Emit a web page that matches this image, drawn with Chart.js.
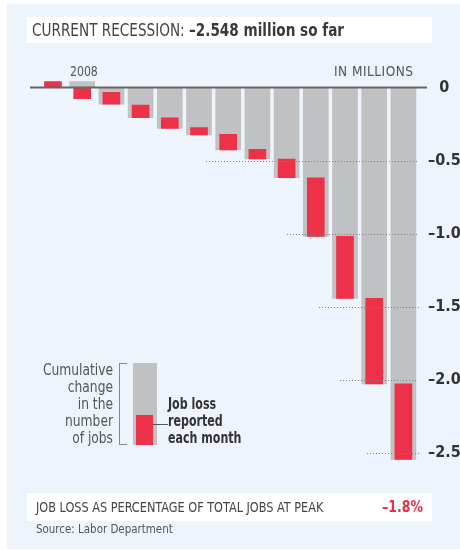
<!DOCTYPE html>
<html>
<head>
<meta charset="utf-8">
<script src="https://cdn.jsdelivr.net/npm/chart.js@4"></script>
<style>
  body { margin: 0; background: #fff; font-family: "DejaVu Sans Condensed", "DejaVu Sans", sans-serif; }
  #wrap { position: relative; width: 460px; height: 550px; overflow: hidden; }
  #panel { position: absolute; left: 7px; top: 4px; width: 453px; height: 545px; background: #edf4fc; }
  canvas { position: absolute; left: 0; top: 0; }
  .t { position: absolute; white-space: nowrap; transform-origin: left center; }
  .box { position: absolute; }
  #titleBox { left: 27px; top: 17px; width: 405px; height: 26px; background: #fff; }
  #title { left: 32px; top: 17px; font-size: 18px; line-height: 26px; color: #444; transform: scaleX(0.84); }
  #title b { color: #3a3a3a; }
  .small { font-size: 13.5px; color: #555; }
  #legendL { left: 13px; top: 362px; width: 100px; text-align: right; font-size: 15px; line-height: 17px; color: #555;
             transform-origin: right center; transform: scaleX(0.91); }
  #legendR { left: 168px; top: 396px; font-size: 15px; line-height: 17px; font-weight: bold; color: #333; transform: scaleX(0.82); }
  #footBox { left: 27px; top: 493px; width: 405px; height: 28px; background: #fff; }
  #foot { left: 36px; top: 493px; font-size: 13.5px; line-height: 28px; color: #444; transform: scaleX(0.93); }
  #pct { left: 382px; top: 493px; font-size: 16px; line-height: 28px; color: #e8304a; font-weight: bold; transform: scaleX(0.87); }
</style>
</head>
<body>
<div id="wrap">
  <div id="panel"></div>
  <div class="box" id="titleBox"></div>
  <div class="box" id="footBox"></div>
  <canvas id="chart" width="460" height="550"></canvas>
  <div class="t" id="title">CURRENT RECESSION: <b>–2.548 million so far</b></div>
  <div class="t small" style="left:70px; top:63px; transform: scaleX(0.9);">2008</div>
  <div class="t small" style="left:334px; top:63px; letter-spacing: 0.5px;">IN MILLIONS</div>
  <div class="t" id="legendL">Cumulative<br>change<br>in the<br>number<br>of jobs</div>
  <div class="box" style="left:119px; top:363px; width:1px; height:82px; background:#888;"></div>
  <div class="box" style="left:119px; top:363px; width:8px; height:1px; background:#888;"></div>
  <div class="box" style="left:119px; top:444px; width:8px; height:1px; background:#888;"></div>
  <div class="box" style="left:133px; top:363px; width:24px; height:82px; background:#c0c1c3;"></div>
  <div class="box" style="left:136px; top:415px; width:17px; height:30px; background:#ec3149;"></div>
  <div class="box" style="left:153px; top:424px; width:15px; height:1px; background:#555;"></div>
  <div class="t" id="legendR">Job loss<br>reported<br>each month</div>
  <div class="t" id="foot">JOB LOSS AS PERCENTAGE OF TOTAL JOBS AT PEAK</div>
  <div class="t" id="pct">–1.8%</div>
  <div class="t small" style="left:36px; top:521px; font-size:13px; transform: scaleX(0.88);">Source: Labor Department</div>
</div>
<script>
// Dec 2007 through Dec 2008, millions of jobs
const months = ['Dec', 'Jan', 'Feb', 'Mar', 'Apr', 'May', 'Jun', 'Jul', 'Aug', 'Sep', 'Oct', 'Nov', 'Dec'];
const cumulative = [0, 0.041, -0.115, -0.207, -0.28, -0.325, -0.428, -0.49, -0.618, -1.02, -1.444, -2.03, -2.548];
const monthFrom = [0, 0, -0.033, -0.12, -0.207, -0.275, -0.32, -0.423, -0.49, -0.618, -1.02, -1.444, -2.03];
const monthTo = [0.041, -0.076, -0.115, -0.207, -0.28, -0.325, -0.428, -0.49, -0.618, -1.02, -1.444, -2.03, -2.548];
const yTicks = [0, -0.5, -1.0, -1.5, -2.0, -2.5];
// where the dotted guide for each tick starts (in bar slots from the left)
const guideStart = { '-0.5': 5.24, '-1': 8.0, '-1.5': 9.1, '-2': 9.83, '-2.5': 10.75 };

const guides = {
    id: 'guides',
    afterDatasetsDraw(chart) {
        const { ctx, chartArea, scales: { x, y } } = chart;
        const slot = x.width / months.length;
        ctx.save();
        ctx.fillStyle = '#828282';
        yTicks.forEach(v => {
            if (v === 0) return;
            const py = Math.round(y.getPixelForValue(v));
            const x0 = x.left + (guideStart[String(v)] + 0.5) * slot;
            for (let px = x0; px < chartArea.right; px += 3) ctx.fillRect(Math.round(px), py, 1, 1);
        });
        // zero line
        const zy = y.getPixelForValue(0);
        ctx.fillStyle = '#666';
        ctx.fillRect(30, zy - 1, 397, 2);
        ctx.restore();
    }
};

new Chart(document.getElementById('chart').getContext('2d'), {
    type: 'bar',
    data: {
        labels: months,
        datasets: [
            { label: 'Job loss reported each month', data: monthFrom.map((v, i) => [v, monthTo[i]]),
              backgroundColor: '#ec3149', barThickness: 17, grouped: false },
            { label: 'Cumulative change', data: cumulative.map(v => [0, v]),
              backgroundColor: '#c0c1c3', barThickness: 25, grouped: false }
        ]
    },
    options: {
        responsive: false,
        animation: false,
        devicePixelRatio: 1,
        layout: { padding: { left: 38.4, top: 72.9, right: 0, bottom: 82.9 } },
        plugins: { legend: { display: false }, tooltip: { enabled: false } },
        scales: {
            x: { display: false, offset: true },
            y: {
                position: 'right', min: -2.6, max: 0.1,
                afterBuildTicks: s => { s.ticks = yTicks.map(v => ({ value: v })); },
                afterFit: s => { s.width = 42; },
                grid: { display: false, drawTicks: false },
                border: { display: false },
                ticks: {
                    crossAlign: 'center', padding: 10, color: '#333',
                    font: { family: '"DejaVu Sans Condensed", "DejaVu Sans", sans-serif', size: 16, weight: 'bold' },
                    callback: v => v === 0 ? '0' : v.toFixed(1).replace('-', '–')
                }
            }
        }
    },
    plugins: [guides]
});
</script>
</body>
</html>
